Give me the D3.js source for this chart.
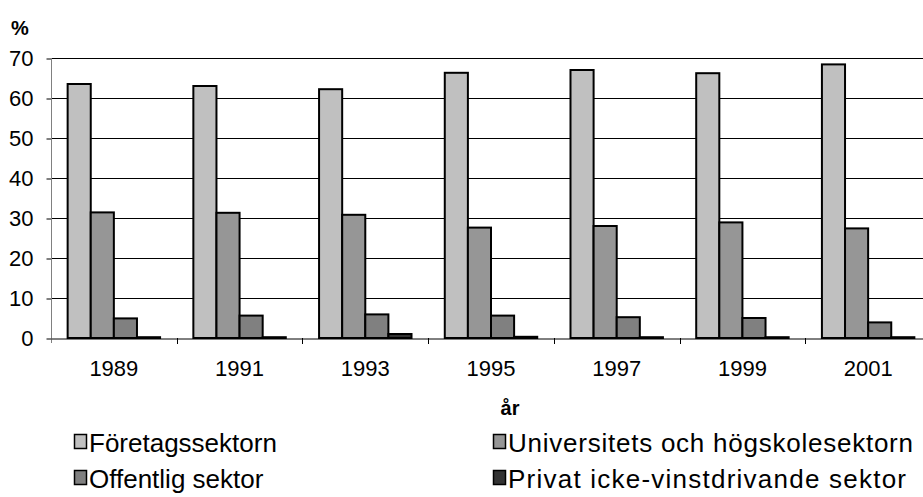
<!DOCTYPE html>
<html>
<head>
<meta charset="utf-8">
<script src="https://cdn.jsdelivr.net/npm/d3@7"></script>
<style>
  html, body { margin: 0; padding: 0; background: #fff; }
  svg { display: block; font-family: Arial, "Liberation Sans", sans-serif; }
</style>
</head>
<body>
<svg id="chart" width="923" height="497"></svg>
<script>
const years = ["1989", "1991", "1993", "1995", "1997", "1999", "2001"];
const seriesNames = ["Företagssektorn", "Universitets och högskolesektorn", "Offentlig sektor", "Privat icke-vinstdrivande sektor"];
const foretag = [63.5, 63.0, 62.2, 66.3, 67.0, 66.2, 68.4];
const universitet = [31.4, 31.3, 30.8, 27.6, 28.0, 28.9, 27.4];
const offentlig = [4.9, 5.6, 5.9, 5.6, 5.2, 5.0, 3.9];
const privat = [0.2, 0.2, 1.0, 0.3, 0.2, 0.2, 0.2];
const yTicks = [0, 10, 20, 30, 40, 50, 60, 70];
const colors = ["#c0c0c0", "#969696", "#808080", "#333333"];

const seriesValues = [foretag, universitet, offentlig, privat];
const rows = years.map((y, i) => ({ year: y, values: seriesValues.map((s, k) => ({ key: seriesNames[k], value: s[i], k })) }));

const svg = d3.select("#chart");
const m = { left: 51, top: 58, right: 931, bottom: 338 };

const x0 = d3.scaleBand().domain(years).range([m.left, m.right]).padding(0);
const x1 = d3.scaleBand().domain(seriesNames).range([0, x0.bandwidth()]).paddingInner(0).paddingOuter(0.72);
const y = d3.scaleLinear().domain([0, 70]).range([m.bottom, m.top]);

// gridlines
svg.append("g").selectAll("line").data(yTicks.filter(t => t > 0)).join("line")
  .attr("x1", m.left).attr("x2", 923)
  .attr("y1", d => Math.round(y(d)) + 0.5).attr("y2", d => Math.round(y(d)) + 0.5)
  .attr("stroke", "#000").attr("stroke-width", 1);

// y axis
const yAxis = d3.axisLeft(y).tickValues(yTicks).tickSize(5).tickPadding(13);
const gy = svg.append("g").attr("transform", `translate(${m.left + 0.5},0.5)`).call(yAxis);
gy.select(".domain").remove();
gy.selectAll(".tick line").attr("stroke", "#000");
gy.selectAll(".tick text").attr("font-size", 22).attr("fill", "#000").attr("font-family", "Arial, 'Liberation Sans', sans-serif");
svg.append("line").attr("x1", m.left + 0.5).attr("x2", m.left + 0.5).attr("y1", m.top).attr("y2", m.bottom + 5).attr("stroke", "#808080");

// x axis
const xAxis = d3.axisBottom(x0).tickSize(0).tickPadding(22);
const gx = svg.append("g").attr("transform", `translate(0,${m.bottom + 0.5})`).call(xAxis);
gx.select(".domain").attr("stroke", "#000");
gx.selectAll(".tick text").attr("font-size", 22).attr("fill", "#000").attr("font-family", "Arial, 'Liberation Sans', sans-serif");
svg.append("g").selectAll("line").data(years.slice(1)).join("line")
  .attr("x1", d => Math.round(x0(d)) + 0.5).attr("x2", d => Math.round(x0(d)) + 0.5)
  .attr("y1", m.bottom).attr("y2", m.bottom + 6).attr("stroke", "#000");

// bars
const groups = svg.append("g").selectAll("g").data(rows).join("g")
  .attr("transform", d => `translate(${x0(d.year)},0)`);
groups.selectAll("rect").data(d => d.values).join("rect")
  .attr("x", d => x1(d.key))
  .attr("y", d => y(d.value))
  .attr("width", x1.bandwidth())
  .attr("height", d => y(0) - y(d.value))
  .attr("fill", d => colors[d.k])
  .attr("stroke", "#000")
  .attr("stroke-width", 2);

// axis titles
svg.append("text").attr("x", 11).attr("y", 35).text("%")
  .attr("font-size", 20).attr("font-weight", "bold").attr("fill", "#000");
svg.append("text").attr("x", 510).attr("y", 415).attr("text-anchor", "middle").text("år")
  .attr("font-size", 20).attr("font-weight", "bold").attr("fill", "#000");

// legend
const legendPos = [[74, 452], [493, 452], [74, 488], [493, 488]];
const legendLen = [null, 405, null, 398];
const lg = svg.append("g").selectAll("g").data(seriesNames).join("g")
  .attr("transform", (d, i) => `translate(${legendPos[i][0]},${legendPos[i][1]})`);
lg.append("rect").attr("x", 0.5).attr("y", -17.5).attr("width", 12).attr("height", 14)
  .attr("fill", (d, i) => colors[i]).attr("stroke", "#000").attr("stroke-width", 1.5);
lg.append("text").attr("x", 15).attr("y", 0).text(d => d)
  .attr("font-size", 26).attr("fill", "#000")
  .each(function(d, i) {
    if (legendLen[i]) d3.select(this).attr("textLength", legendLen[i]).attr("lengthAdjust", "spacing");
  });
</script>
</body>
</html>
